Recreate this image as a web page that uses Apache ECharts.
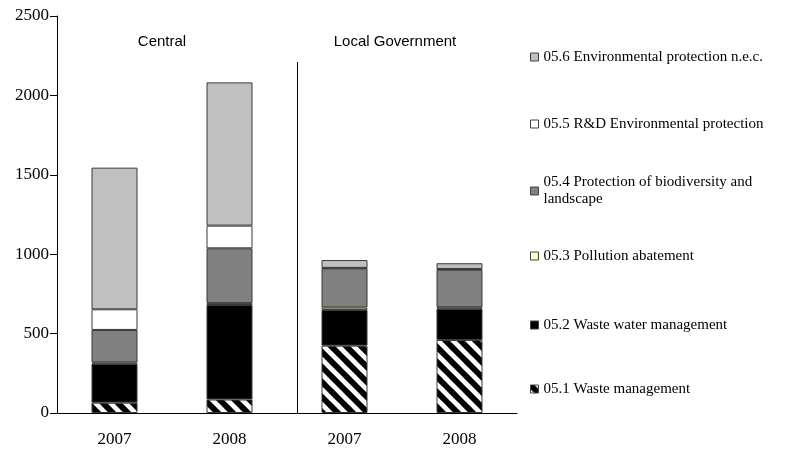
<!DOCTYPE html>
<html>
<head>
<meta charset="utf-8">
<script src="https://cdn.jsdelivr.net/npm/echarts@6/dist/echarts.min.js"></script>
<style>html,body{margin:0;padding:0;background:#fff}#c{width:794px;height:452px}</style>
</head>
<body>
<div id="c"></div>
<script>
const categories = ['2007', '2008', '2007', '2008'];
const groupLabels = ['Central', 'Local Government'];
const yTicks = { min: 0, max: 2500, interval: 500 };

const seriesNames = [
  '05.1 Waste management',
  '05.2 Waste water management',
  '05.3 Pollution abatement',
  '05.4 Protection of biodiversity and landscape',
  '05.5 R&D Environmental protection',
  '05.6 Environmental protection n.e.c.'
];
const wasteManagement      = [65, 85, 424, 460];
const wasteWater           = [245, 595, 225, 196];
const pollutionAbatement   = [8, 12, 15, 10];
const biodiversity         = [205, 345, 247, 236];
const rdEnvironmental      = [130, 143, 3, 5];
const envProtectionNec     = [892, 902, 49, 36];

const seriesValues = [wasteManagement, wasteWater, pollutionAbatement, biodiversity, rdEnvironmental, envProtectionNec];

function hatch() {
  const N = 15, c = document.createElement('canvas');
  c.width = N; c.height = N;
  const g = c.getContext('2d');
  g.fillStyle = '#fff'; g.fillRect(0, 0, N, N);
  g.strokeStyle = '#000'; g.lineWidth = N / Math.SQRT2 * 0.55;
  for (const o of [-N, 0, N]) { g.beginPath(); g.moveTo(o - N, -N); g.lineTo(o + 2 * N, 2 * N); g.stroke(); }
  return c;
}
const fills = [
  { image: hatch(), repeat: 'repeat' },
  '#000000',
  '#ffffc0',
  '#808080',
  '#ffffff',
  '#c0c0c0'
];

const serif = 'Liberation Serif, Times New Roman, serif';
const sans = 'Liberation Sans, Arial, sans-serif';

const chart = echarts.init(document.getElementById('c'));

const legendCenters = [389, 325, 256, 191, 124, 57]; // first line centre for each series (05.1..05.6)
const legends = seriesNames.map((n, i) => {
  const two = i === 3;
  return {
    data: [n],
    orient: 'vertical',
    left: 530,
    top: two ? legendCenters[i] - 17 - 8.5 : legendCenters[i] - 8.5,
    padding: 0,
    itemWidth: 8,
    itemHeight: 8,
    itemGap: 0,
    selectedMode: false,
    icon: 'rect',
    itemStyle: { borderColor: '#404040', borderWidth: 1 },
    formatter: two ? () => '05.4 Protection of biodiversity and\nlandscape' : undefined,
    textStyle: {
      fontFamily: serif, fontSize: 15, color: '#000', lineHeight: 17,
      padding: two ? [17, 0, 0, 0] : 0
    }
  };
});

chart.setOption({
  animation: false,
  backgroundColor: '#fff',
  grid: { left: 57, right: 277, top: 16, bottom: 39 },
  legend: legends,
  xAxis: {
    type: 'category',
    data: categories,
    axisLine: { lineStyle: { color: '#000', width: 1 } },
    axisTick: { show: false },
    axisLabel: { fontFamily: serif, fontSize: 17, color: '#000', margin: 18 }
  },
  yAxis: {
    type: 'value',
    min: yTicks.min, max: yTicks.max, interval: yTicks.interval,
    axisLine: { show: true, lineStyle: { color: '#000', width: 1 } },
    axisTick: { show: true, length: 7, lineStyle: { color: '#000' } },
    splitLine: { show: false },
    axisLabel: { fontFamily: serif, fontSize: 17, color: '#000', margin: 8, formatter: v => String(v) }
  },
  series: seriesNames.map((n, i) => ({
    name: n,
    type: 'bar',
    stack: 'total',
    barWidth: 46,
    data: seriesValues[i],
    itemStyle: { color: fills[i], borderColor: '#383838', borderWidth: 1 }
  })),
  graphic: [
    { type: 'line', shape: { x1: 297.5, y1: 62, x2: 297.5, y2: 413 }, style: { stroke: '#000', lineWidth: 1 } },
    { type: 'text', x: 162, y: 42, style: { text: groupLabels[0], font: '15px ' + sans, fill: '#000', textAlign: 'center', textVerticalAlign: 'middle' } },
    { type: 'text', x: 395, y: 42, style: { text: groupLabels[1], font: '15px ' + sans, fill: '#000', textAlign: 'center', textVerticalAlign: 'middle' } }
  ]
});
</script>
</body>
</html>
